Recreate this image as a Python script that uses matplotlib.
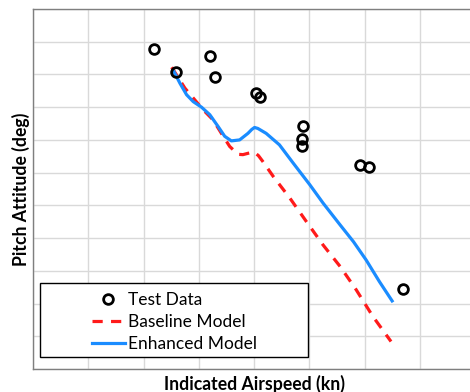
import matplotlib.pyplot as plt
from matplotlib.patches import Rectangle

plt.rcParams['font.family'] = ['Lato', 'DejaVu Sans']

# test data points (grid units, axes have no numbers)
test_x = [2.19, 2.58, 3.20, 3.30, 4.03, 4.10, 4.88, 4.86, 4.87, 5.91, 6.08, 6.70]
test_y = [9.78, 9.09, 9.55, 8.91, 8.43, 8.30, 7.41, 7.02, 6.80, 6.23, 6.17, 2.45]

# baseline model
base_x = [2.51, 2.75, 2.90, 3.08, 3.26, 3.41, 3.56, 3.71, 3.80, 3.89, 4.00, 4.08, 4.16,
          4.35, 4.65, 4.95, 5.25, 5.56, 5.85, 6.15, 6.48]
base_y = [9.22, 8.58, 8.28, 7.92, 7.61, 7.20, 6.80, 6.56, 6.55, 6.59, 6.63, 6.52, 6.34,
          5.88, 5.22, 4.50, 3.79, 3.13, 2.42, 1.61, 0.84]

# enhanced model
enh_x = [2.55, 2.66, 2.78, 2.90, 3.05, 3.20, 3.35, 3.47, 3.59, 3.74, 3.89, 3.96, 4.01,
         4.07, 4.22, 4.46, 4.71, 5.01, 5.25, 5.56, 5.80, 6.03, 6.27, 6.50]
enh_y = [9.09, 8.73, 8.38, 8.17, 8.00, 7.77, 7.41, 7.11, 6.97, 7.00, 7.20, 7.32, 7.38,
         7.35, 7.20, 6.85, 6.29, 5.63, 5.07, 4.40, 3.89, 3.33, 2.67, 2.08]

fig = plt.figure(figsize=(4.7, 3.92), dpi=100)
ax = fig.add_axes([33/470, 23/392, 442/470, 360/392])

ax.plot(base_x, base_y, color='#ff1a1a', lw=2.3, ls=(0, (3.2, 2.6)), label='Baseline Model',
        zorder=3, solid_joinstyle='round')
ax.plot(enh_x, enh_y, color='#1a8cff', lw=2.3, label='Enhanced Model', zorder=3,
        solid_joinstyle='round')
ax.plot(test_x, test_y, 'o', ms=7, mfc='none', mec='black', mew=2, label='Test Data', zorder=4)

ax.set_xlim(0, 8)
ax.set_ylim(0, 11)
ax.set_xticks(range(9))
ax.set_yticks(range(12))
ax.set_xticklabels([])
ax.set_yticklabels([])
ax.tick_params(length=0)
ax.grid(True, color='#d9d9d9', lw=1)
for s in ax.spines.values():
    s.set_color('#7f7f7f')
    s.set_linewidth(1)

fig.text(254/470, 1 - 384/392, 'Indicated Airspeed (kn)', fontsize=12.7, fontweight='bold',
         ha='center', va='center')
fig.text(21/470, 1 - 189/392, 'Pitch Attitude (deg)', fontsize=12.7, fontweight='bold',
         ha='center', va='center', rotation=90)

# legend frame, Excel style
frame = Rectangle((40/470, 35/392), 268/470, 74/392, transform=fig.transFigure,
                  facecolor='white', edgecolor='black', lw=1, zorder=5)
fig.patches.append(frame)

h, l = ax.get_legend_handles_labels()
order = [2, 0, 1]
leg = fig.legend([h[i] for i in order], [l[i] for i in order], loc='upper left',
                 bbox_to_anchor=(83/470, 1 - 283/392), frameon=False, fontsize=12.5,
                 borderpad=0, handlelength=1.9, handletextpad=0.2, labelspacing=0.35)
leg.set_zorder(6)

fig.savefig('out.png', dpi=100)
